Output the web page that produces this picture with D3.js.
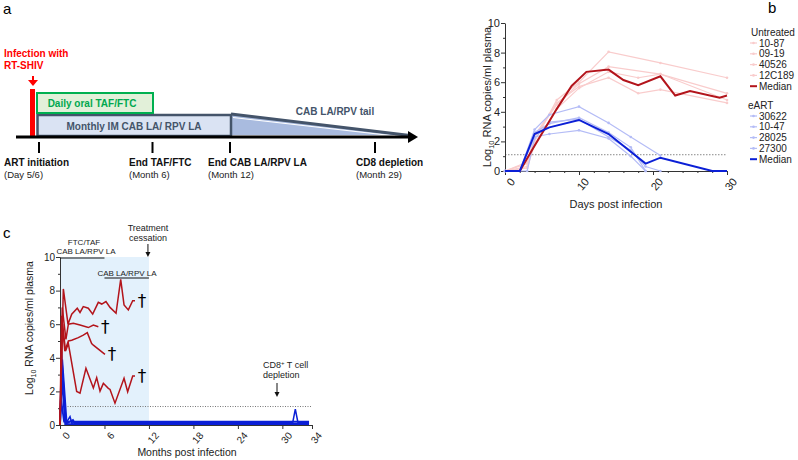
<!DOCTYPE html>
<html>
<head>
<meta charset="utf-8">
<script src="https://cdn.jsdelivr.net/npm/d3@7"></script>
<style>
  body { margin: 0; background: #fff; }
  text { font-family: "Liberation Sans", Arial, sans-serif; }
</style>
</head>
<body>
<div id="fig"></div>
<script>
// ---- panel b: days post infection vs log10 VL ----
const untreatedIds = ["10-87", "09-19", "40526", "12C189"];
const untreatedDays = [
  [0, 3, 4, 7, 10, 14, 21, 30],
  [0, 3, 4, 7, 10, 14, 21, 30],
  [0, 3, 4, 7, 10, 14, 18, 21, 30],
  [0, 3, 4, 7, 10, 14, 18, 21, 30]
];
const untreatedVL = [
  [0, 0.3, 2.0, 4.8, 6.0, 8.05, 7.3, 6.3],
  [0, 0.5, 2.3, 4.5, 5.9, 7.05, 6.55, 5.25],
  [0, 0.2, 1.8, 4.2, 5.6, 6.7, 6.3, 6.55, 4.8],
  [0, 0.6, 2.4, 4.6, 5.7, 6.3, 5.25, 5.5, 4.6]
];
const untreatedMedDays = [0, 2, 4, 7, 9, 11, 14, 16, 18, 21, 23, 25, 29, 30];
const untreatedMedVL = [0, 0, 1.7, 4.2, 5.75, 6.7, 6.85, 6.15, 5.8, 6.4, 5.1, 5.4, 4.95, 5.1];

const eartIds = ["30622", "10-47", "28025", "27300"];
const eartDays = [
  [0, 2, 4, 6, 10, 14, 17, 21],
  [0, 2, 4, 6, 10, 14, 17, 19],
  [0, 2, 4, 6, 10, 14, 17, 19],
  [0, 3, 4, 6, 10, 14, 17, 19, 21]
];
const eartVL = [
  [0, 0, 2.8, 3.8, 4.35, 3.25, 2.3, 1.05],
  [0, 0, 2.6, 3.2, 3.6, 2.6, 1.6, 0],
  [0, 0, 2.3, 2.5, 2.75, 2.2, 1.0, 0],
  [0, 0, 2.2, 3.3, 3.5, 2.3, 1.4, 0.3, 0]
];
const eartMedDays = [0, 2, 4, 6, 10, 14, 19, 21, 28, 30];
const eartMedVL = [0, 0, 2.5, 2.95, 3.45, 2.5, 0.5, 0.9, 0, 0];

const limitOfDetection = 1.1;

// ---- panel c: months post infection ----
const cRedMonths = [
  [0, 0.45, 1.08, 1.58, 2.33, 2.7, 3.14, 3.82, 4.41, 5.17, 5.63, 6.2, 6.75, 7.56, 8.19, 8.64, 9.22, 9.81, 10.12],
  [0, 0.3, 0.8, 1.13, 1.8, 2.7, 3.82, 4.5, 5.17],
  [0, 0.2, 0.65, 1.13, 1.58, 2.47, 3.14, 3.68, 4.27, 4.5, 6.07],
  [0, 0.35, 0.75, 1.13, 2.25, 2.7, 3.5, 4.5, 4.95, 5.4, 5.85, 6.52, 6.75, 7.42, 8.64, 9.13, 9.81, 10.12]
];
const cRedVL = [
  [0, 8.1, 6.0, 6.6, 6.95, 6.7, 7.05, 6.95, 6.6, 7.3, 7.2, 7.35, 7.0, 6.65, 8.67, 7.15, 6.85, 7.4, 7.4],
  [0, 7.0, 5.1, 6.0, 6.05, 5.95, 5.8, 5.95, 5.85],
  [0, 6.5, 4.4, 5.0, 5.05, 5.2, 5.35, 5.5, 4.85, 4.75, 4.2],
  [0, 6.0, 4.4, 4.85, 2.0, 1.9, 3.38, 2.2, 2.82, 2.02, 2.48, 2.18, 2.12, 1.3, 2.78, 1.98, 2.92, 2.92]
];
const cBlueMonths = [
  [0, 0.2, 0.8, 1.35, 1.6, 2.0, 31.4, 31.75, 32.1, 33.6],
  [0, 0.3, 0.9, 1.75, 2.0, 33.6],
  [0, 0.25, 0.7, 33.6],
  [0, 0.15, 0.55, 33.6]
];
const cBlueVL = [
  [0, 4.35, 0.1, 0.5, 0.1, 0.15, 0.15, 0.95, 0.15, 0.15],
  [0, 3.9, 0.1, 0.3, 0.1, 0.1],
  [0, 2.8, 0.05, 0.05],
  [0, 1.5, 0.2, 0.2]
];

const red = "#b3141b", blue = "#0b1fd6";
const pink = "#f9cccc", paleBlue = "#b4bcf6";

const svg = d3.select("#fig").append("svg")
  .attr("width", 798).attr("height", 460);

// panel letters
svg.append("text").attr("x", 3).attr("y", 14).attr("font-size", 15).text("a");
svg.append("text").attr("x", 768).attr("y", 13).attr("font-size", 15).text("b");
svg.append("text").attr("x", 3).attr("y", 238).attr("font-size", 15).text("c");

// ================= panel a (schematic) =================
const a = svg.append("g");
const slate = "#44546a";

a.append("text").attr("x", 4).attr("y", 57).attr("font-size", 10).attr("font-weight", "bold")
  .attr("fill", "#ff0000").text("Infection with");
a.append("text").attr("x", 4).attr("y", 69).attr("font-size", 10).attr("font-weight", "bold")
  .attr("fill", "#ff0000").text("RT-SHIV");
a.append("line").attr("x1", 33).attr("x2", 33).attr("y1", 76).attr("y2", 81)
  .attr("stroke", "#ff0000").attr("stroke-width", 2);
a.append("path").attr("d", "M28,80 L38,80 L33,86 Z").attr("fill", "#ff0000");
a.append("rect").attr("x", 30).attr("y", 89).attr("width", 5).attr("height", 48).attr("fill", "#ff0000");

// tail
a.append("path").attr("d", "M231,114 L410,135 L231,135 Z").attr("fill", "#a9bbdf");
a.append("line").attr("x1", 231).attr("y1", 114).attr("x2", 410).attr("y2", 135.5)
  .attr("stroke", slate).attr("stroke-width", 3);
a.append("line").attr("x1", 233).attr("y1", 117.5).attr("x2", 395).attr("y2", 136)
  .attr("stroke", "#fff").attr("stroke-width", 1);

// monthly box
a.append("rect").attr("x", 37.5).attr("y", 115).attr("width", 193.5).attr("height", 21)
  .attr("fill", "#dae3f3").attr("stroke", slate).attr("stroke-width", 2.5);
a.append("text").attr("x", 134).attr("y", 130).attr("text-anchor", "middle")
  .attr("font-size", 10).attr("font-weight", "bold").attr("fill", slate)
  .text("Monthly IM CAB LA/ RPV LA");

// daily oral box
a.append("rect").attr("x", 37).attr("y", 93).attr("width", 116).attr("height", 20)
  .attr("fill", "#e2f0d9").attr("stroke", "#00b050").attr("stroke-width", 2);
a.append("text").attr("x", 92).attr("y", 107).attr("text-anchor", "middle")
  .attr("font-size", 10).attr("font-weight", "bold").attr("fill", "#00a84f")
  .text("Daily oral TAF/FTC");

a.append("text").attr("x", 335).attr("y", 115).attr("text-anchor", "middle")
  .attr("font-size", 10).attr("font-weight", "bold").attr("fill", slate)
  .text("CAB LA/RPV tail");

// timeline
a.append("line").attr("x1", 16).attr("x2", 410).attr("y1", 137).attr("y2", 137)
  .attr("stroke", "#000").attr("stroke-width", 3);
a.append("path").attr("d", "M408,131 L418,137 L408,143 Z").attr("fill", "#000");

const milestones = [
  { x: 39, lx: 4, t1: "ART initiation", t2: "(Day 5/6)" },
  { x: 152.5, lx: 129, t1: "End TAF/FTC", t2: "(Month 6)" },
  { x: 230, lx: 208, t1: "End CAB LA/RPV LA", t2: "(Month 12)" },
  { x: 375, lx: 356, t1: "CD8 depletion", t2: "(Month 29)" }
];
milestones.forEach(m => {
  a.append("line").attr("x1", m.x).attr("x2", m.x).attr("y1", 142).attr("y2", 153)
    .attr("stroke", "#000").attr("stroke-width", 2);
  a.append("text").attr("x", m.lx).attr("y", 166).attr("font-size", 10)
    .attr("font-weight", "bold").attr("fill", "#111").text(m.t1);
  a.append("text").attr("x", m.lx).attr("y", 178).attr("font-size", 9.5)
    .attr("fill", "#222").text(m.t2);
});

// ================= panel b =================
const xb = d3.scaleLinear().domain([0, 30]).range([505, 727]);
const yb = d3.scaleLinear().domain([0, 10]).range([171, 23]);
const b = svg.append("g");

b.append("line").attr("class", "lod").attr("x1", xb(0)).attr("x2", xb(30))
  .attr("y1", yb(limitOfDetection)).attr("y2", yb(limitOfDetection))
  .attr("stroke", "#888").attr("stroke-width", 1).attr("stroke-dasharray", "1.5,1.5");

function axisStyle(g) {
  g.selectAll("path, line").attr("stroke", "#333");
  g.selectAll("text").attr("fill", "#222");
}

const byAxis = b.append("g").attr("transform", `translate(${xb(0)},0)`)
  .call(d3.axisLeft(yb).tickValues([0, 2, 4, 6, 8, 10]).tickSize(4).tickSizeOuter(0).tickPadding(1));
byAxis.selectAll("text").attr("font-size", 11).attr("font-family", "Liberation Sans, Arial");
b.append("g").attr("transform", `translate(${xb(0)},0)`)
  .call(d3.axisLeft(yb).tickValues([1, 3, 5, 7, 9]).tickSize(2).tickFormat(""))
  .call(g => g.select(".domain").remove())
  .call(axisStyle);
axisStyle(byAxis);

const bxAxis = b.append("g").attr("transform", `translate(0,${yb(0)})`)
  .call(d3.axisBottom(xb).tickValues([0, 10, 20, 30]).tickSize(4).tickSizeOuter(0));
bxAxis.selectAll("text").attr("font-size", 11).attr("font-family", "Liberation Sans, Arial")
  .attr("text-anchor", "end").attr("dy", "0.35em")
  .attr("transform", "translate(2,4) rotate(-50)");
b.append("g").attr("transform", `translate(0,${yb(0)})`)
  .call(d3.axisBottom(xb).tickValues(d3.range(2, 30, 2).filter(d => d % 10)).tickSize(2).tickFormat(""))
  .call(g => g.select(".domain").remove())
  .call(axisStyle);
axisStyle(bxAxis);

b.append("text").attr("x", 616).attr("y", 208).attr("text-anchor", "middle")
  .attr("font-size", 11).attr("fill", "#222").text("Days post infection");
const bYLab = b.append("text").attr("transform", "translate(491,97) rotate(-90)")
  .attr("text-anchor", "middle").attr("font-size", 11).attr("fill", "#222");
bYLab.append("tspan").text("Log");
bYLab.append("tspan").attr("font-size", 7.5).attr("dy", 3).text("10");
bYLab.append("tspan").attr("dy", -3).text(" RNA copies/ml plasma");

const lineB = d3.line().x(d => xb(d[0])).y(d => yb(d[1]));
const zipB = (xs, ys) => xs.map((x, i) => [x, ys[i]]);

untreatedDays.forEach((days, i) => {
  const pts = zipB(days, untreatedVL[i]);
  b.append("path").attr("d", lineB(pts)).attr("fill", "none")
    .attr("stroke", pink).attr("stroke-width", 1.2);
  b.selectAll(null).data(pts).enter().append("circle")
    .attr("cx", d => xb(d[0])).attr("cy", d => yb(d[1])).attr("r", 1.3).attr("fill", pink);
});
eartDays.forEach((days, i) => {
  const pts = zipB(days, eartVL[i]);
  b.append("path").attr("d", lineB(pts)).attr("fill", "none")
    .attr("stroke", paleBlue).attr("stroke-width", 1.2);
  b.selectAll(null).data(pts).enter().append("circle")
    .attr("cx", d => xb(d[0])).attr("cy", d => yb(d[1])).attr("r", 1.3).attr("fill", paleBlue);
});
b.append("path").attr("d", lineB(zipB(untreatedMedDays, untreatedMedVL))).attr("fill", "none")
  .attr("stroke", red).attr("stroke-width", 2);
b.append("path").attr("d", lineB(zipB(eartMedDays, eartMedVL))).attr("fill", "none")
  .attr("stroke", blue).attr("stroke-width", 2);

// legend
const leg = svg.append("g").attr("font-size", 10).attr("fill", "#222");
leg.append("text").attr("x", 751).attr("y", 36).text("Untreated");
untreatedIds.concat(["Median"]).forEach((id, i) => {
  const y = 46.5 + i * 10.8;
  const med = id === "Median";
  leg.append("line").attr("x1", 750).attr("x2", 757).attr("y1", y - 3.5).attr("y2", y - 3.5)
    .attr("stroke", med ? red : pink).attr("stroke-width", med ? 2 : 1.2);
  if (!med) leg.append("circle").attr("cx", 753.5).attr("cy", y - 3.5).attr("r", 1.3).attr("fill", pink);
  leg.append("text").attr("x", 759).attr("y", y).text(id);
});
leg.append("text").attr("x", 748).attr("y", 109).text("eART");
eartIds.concat(["Median"]).forEach((id, i) => {
  const y = 119.5 + i * 10.8;
  const med = id === "Median";
  leg.append("line").attr("x1", 750).attr("x2", 757).attr("y1", y - 3.5).attr("y2", y - 3.5)
    .attr("stroke", med ? blue : paleBlue).attr("stroke-width", med ? 2 : 1.2);
  if (!med) leg.append("circle").attr("cx", 753.5).attr("cy", y - 3.5).attr("r", 1.3).attr("fill", paleBlue);
  leg.append("text").attr("x", 759).attr("y", y).text(id);
});

// ================= panel c =================
const xc = d3.scaleLinear().domain([0, 34]).range([60, 312]);
const yc = d3.scaleLinear().domain([0, 10]).range([425, 257]);
const c = svg.append("g");

c.append("rect").attr("x", xc(0)).attr("y", yc(10)).attr("width", xc(12) - xc(0))
  .attr("height", yc(0) - yc(10)).attr("fill", "#e3f1fc");

c.append("line").attr("x1", xc(0)).attr("x2", xc(34))
  .attr("y1", yc(limitOfDetection)).attr("y2", yc(limitOfDetection))
  .attr("stroke", "#777").attr("stroke-width", 1).attr("stroke-dasharray", "1,1.5");

const cyAxis = c.append("g").attr("transform", `translate(${xc(0)},0)`)
  .call(d3.axisLeft(yc).tickValues([0, 2, 4, 6, 8, 10]).tickSize(4).tickSizeOuter(0).tickPadding(1));
cyAxis.selectAll("text").attr("font-size", 10).attr("font-family", "Liberation Sans, Arial");
c.append("g").attr("transform", `translate(${xc(0)},0)`)
  .call(d3.axisLeft(yc).tickValues([1, 3, 5, 7, 9]).tickSize(2).tickFormat(""))
  .call(g => g.select(".domain").remove())
  .call(axisStyle);
const cxAxis = c.append("g").attr("transform", `translate(0,${yc(0)})`)
  .call(d3.axisBottom(xc).tickValues([0, 6, 12, 18, 24, 30, 34]).tickSize(4).tickSizeOuter(0));
cxAxis.selectAll("text").attr("font-size", 10).attr("font-family", "Liberation Sans, Arial")
  .attr("text-anchor", "end").attr("dy", "0.35em")
  .attr("transform", "translate(2,4) rotate(-50)");
axisStyle(cyAxis); axisStyle(cxAxis);

c.append("text").attr("x", 187).attr("y", 456).attr("text-anchor", "middle")
  .attr("font-size", 10.5).attr("fill", "#222").text("Months post infection");
const cYLab = c.append("text").attr("transform", "translate(33,328) rotate(-90)")
  .attr("text-anchor", "middle").attr("font-size", 10.5).attr("fill", "#222");
cYLab.append("tspan").text("Log");
cYLab.append("tspan").attr("font-size", 7).attr("dy", 3).text("10");
cYLab.append("tspan").attr("dy", -3).text(" RNA copies/ml plasma");

const lineC = d3.line().x(d => xc(d[0])).y(d => yc(d[1]));
cBlueMonths.forEach((ms, i) => {
  c.append("path").attr("d", lineC(zipB(ms, cBlueVL[i]))).attr("fill", "none")
    .attr("stroke", blue).attr("stroke-width", i === 0 ? 1.5 : 1.8);
});
cRedMonths.forEach((ms, i) => {
  const pts = zipB(ms, cRedVL[i]);
  c.append("path").attr("d", lineC(pts)).attr("fill", "none")
    .attr("stroke", red).attr("stroke-width", 1.5);
  const last = pts[pts.length - 1];
  c.append("text").attr("x", xc(last[0]) + 7).attr("y", yc(last[1]) + 6)
    .attr("text-anchor", "middle").attr("font-size", 17)
    .style("font-family", "DejaVu Sans, sans-serif")
    .attr("fill", "#000").text("\u2020");
});

// treatment annotations
c.append("text").attr("x", 84).attr("y", 245).attr("text-anchor", "middle")
  .attr("font-size", 8).attr("fill", "#222").text("FTC/TAF");
c.append("text").attr("x", 86).attr("y", 253.5).attr("text-anchor", "middle")
  .attr("font-size", 8).attr("fill", "#222").text("CAB LA/RPV LA");
c.append("line").attr("x1", xc(0)).attr("x2", xc(6)).attr("y1", 258).attr("y2", 258)
  .attr("stroke", "#111").attr("stroke-width", 1.2);
c.append("text").attr("x", 127).attr("y", 275.5).attr("text-anchor", "middle")
  .attr("font-size", 8).attr("fill", "#222").text("CAB LA/RPV LA");
c.append("line").attr("x1", xc(6)).attr("x2", xc(12)).attr("y1", 278).attr("y2", 278)
  .attr("stroke", "#111").attr("stroke-width", 1.2);

c.append("text").attr("x", 148).attr("y", 231).attr("text-anchor", "middle")
  .attr("font-size", 9).attr("fill", "#222").text("Treatment");
c.append("text").attr("x", 148).attr("y", 241).attr("text-anchor", "middle")
  .attr("font-size", 9).attr("fill", "#222").text("cessation");
c.append("line").attr("x1", xc(12) - 1).attr("x2", xc(12) - 1).attr("y1", 244).attr("y2", 253)
  .attr("stroke", "#111").attr("stroke-width", 1);
c.append("path").attr("d", `M${xc(12) - 3.5},252 L${xc(12) + 1.5},252 L${xc(12) - 1},257 Z`).attr("fill", "#111");

const cd8 = c.append("text").attr("x", 263).attr("y", 368).attr("font-size", 9).attr("fill", "#222");
cd8.append("tspan").text("CD8");
cd8.append("tspan").attr("font-size", 6).attr("dy", -3).text("+");
cd8.append("tspan").attr("dy", 3).text(" T cell");
c.append("text").attr("x", 263).attr("y", 378).attr("font-size", 9).attr("fill", "#222").text("depletion");
c.append("line").attr("x1", 277).attr("x2", 277).attr("y1", 383).attr("y2", 393)
  .attr("stroke", "#111").attr("stroke-width", 1);
c.append("path").attr("d", "M274.5,392 L279.5,392 L277,397 Z").attr("fill", "#111");
</script>
</body>
</html>
